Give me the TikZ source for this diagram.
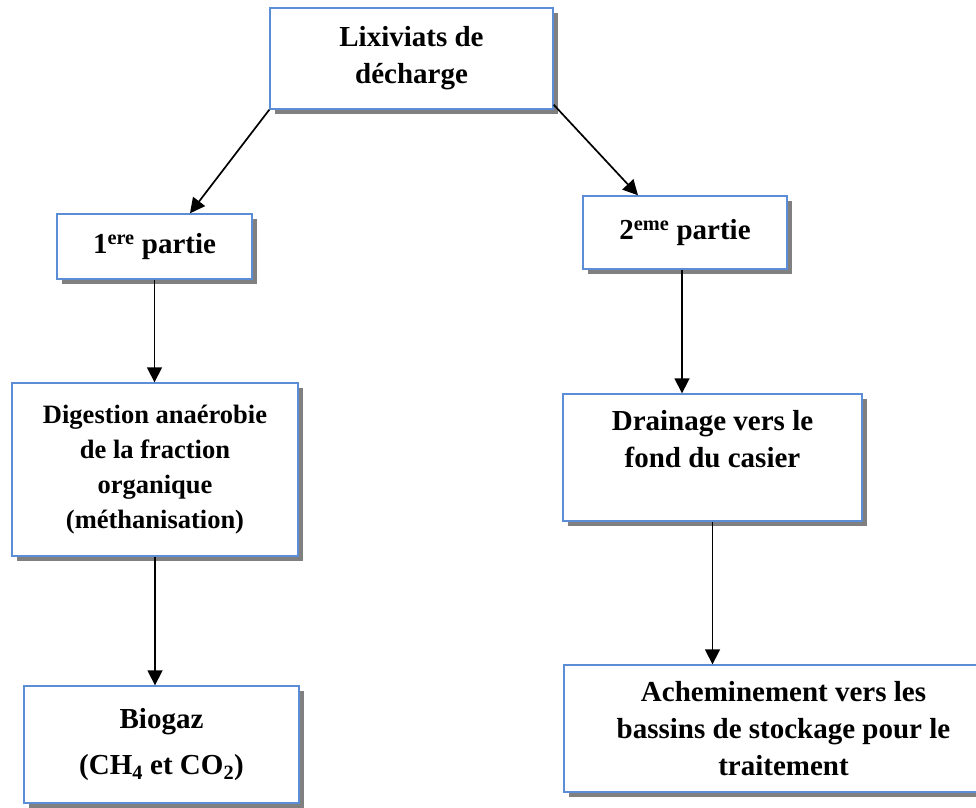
\documentclass[tikz,border=0pt]{standalone}
\usepackage{fontspec}
\setmainfont{Liberation Serif}
\usetikzlibrary{arrows.meta,shadows}
\definecolor{boxblue}{HTML}{5B8ED6}
\definecolor{shade}{HTML}{808080}

\begin{document}
\begin{tikzpicture}[x=1pt,y=-1pt,>={Triangle[length=15pt,width=15pt]},
  box/.style={draw=boxblue,line width=1.4pt,fill=white,inner sep=0pt,align=center,
    font=\fontsize{29}{37}\selectfont\bfseries,
    drop shadow={shadow xshift=5pt,shadow yshift=-5pt,fill=shade,opacity=1}},
  arr/.style={->,line width=1.7pt}]
  \useasboundingbox (0,0) rectangle (976,807);
  \node[box,minimum width=283pt,minimum height=101pt] (lix) at (411.5,58.5)
    {Lixiviats de\\décharge};
  \node[box,minimum width=195pt,minimum height=65pt] (part1) at (154.5,246.5)
    {1\textsuperscript{ere} partie};
  \node[box,minimum width=204pt,minimum height=73pt] (part2) at (685,232.5)
    {2\textsuperscript{eme} partie};
  \node[box,minimum width=286pt,minimum height=173pt,
    font=\fontsize{26.5}{35}\selectfont\bfseries] (digest) at (155,469.5)
    {Digestion anaérobie\\de la fraction\\organique\\(méthanisation)};
  \node[box,minimum width=299pt,minimum height=127pt] (drain) at (712.5,457.5)
    {Drainage vers le\\fond du casier\\\mbox{}};
  \node[box,minimum width=275pt,minimum height=117pt] (biogaz) at (161.5,744.5)
    {Biogaz\\[9pt](CH\textsubscript{4} et CO\textsubscript{2})};
  \node[box,minimum width=439pt,minimum height=127pt] (achem) at (783.5,728.5)
    {Acheminement vers les\\bassins de stockage pour le\\traitement};
  % liaisons
  \draw[arr] (lix.south west) -- ([xshift=35.5pt]part1.north);
  \draw[arr] ([yshift=5pt]lix.south east) -- ([xshift=-47pt]part2.north);
  \draw[arr] (part1.south) -- (part1.south |- digest.north);
  \draw[arr] ([xshift=-3pt]part2.south) -- ([xshift=-3pt]part2.south |- drain.north);
  \draw[arr] (digest.south) -- (digest.south |- biogaz.north);
  \draw[arr] (drain.south) -- (drain.south |- achem.north);
\end{tikzpicture}
\end{document}
